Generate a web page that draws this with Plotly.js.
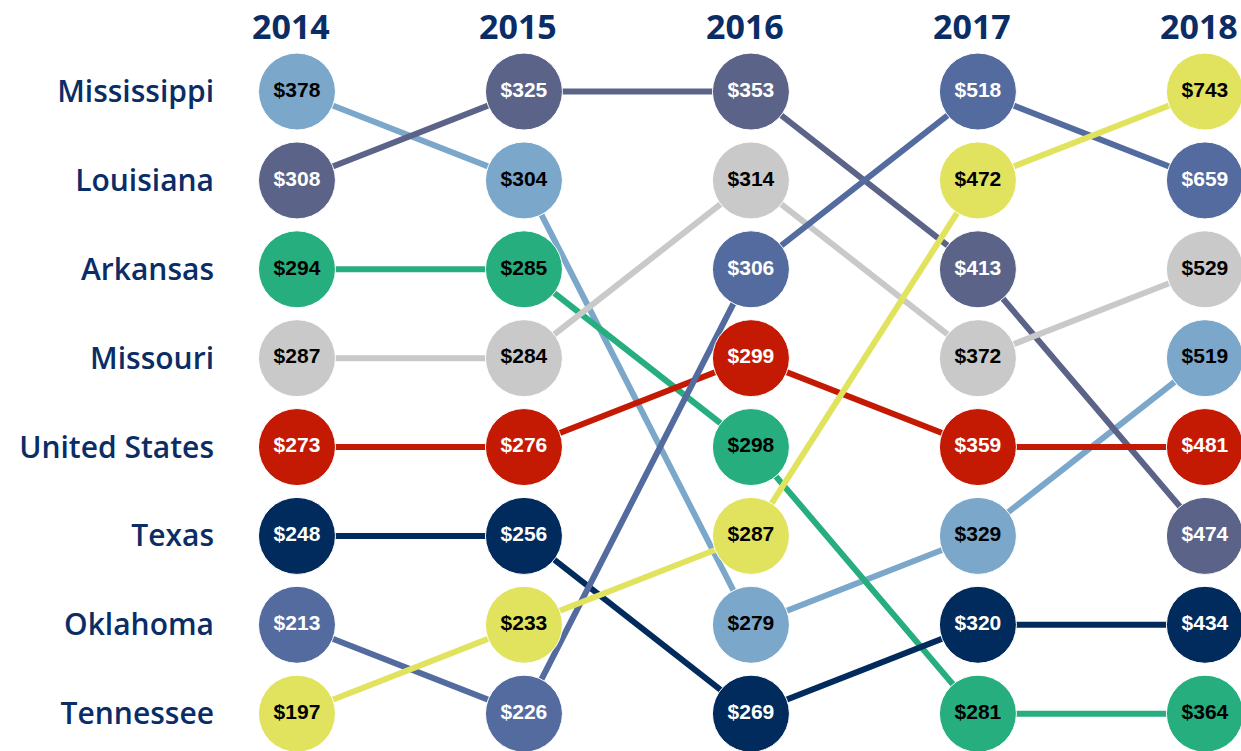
<!DOCTYPE html>
<html>
<head>
<meta charset="utf-8">
<script src="https://cdn.plot.ly/plotly-3.0.1.min.js"></script>
<style>html,body{margin:0;padding:0;background:#fff;}#chart{width:1241px;height:751px;}</style>
</head>
<body>
<div id="chart"></div>
<script>
const years = ["2014", "2015", "2016", "2017", "2018"];
const states = ["Mississippi", "Louisiana", "Arkansas", "Missouri", "United States", "Texas", "Oklahoma", "Tennessee"];
const mississippi = [378, 304, 279, 329, 519];
const louisiana = [308, 325, 353, 413, 474];
const arkansas = [294, 285, 298, 281, 364];
const missouri = [287, 284, 314, 372, 529];
const unitedStates = [273, 276, 299, 359, 481];
const texas = [248, 256, 269, 320, 434];
const oklahoma = [213, 226, 306, 518, 659];
const tennessee = [197, 233, 287, 472, 743];

const series = [mississippi, louisiana, arkansas, missouri, unitedStates, texas, oklahoma, tennessee];
const colors = ["#7ba7ca", "#5b6488", "#27ae7e", "#c9c9c9", "#c41a04", "#002b5c", "#536b9e", "#e1e35e"];
const textColors = ["#000", "#fff", "#000", "#000", "#fff", "#fff", "#fff", "#000"];

// rank within each year (1 = highest)
function rankOf(si, yi) {
  const v = series[si][yi];
  let r = 1;
  series.forEach(s => { if (s[yi] > v) r++; });
  return r;
}

const traces = [];
series.forEach((s, i) => {
  traces.push({
    type: "scatter", mode: "lines",
    x: years.map((y, j) => j),
    y: years.map((y, j) => rankOf(i, j)),
    line: {color: colors[i], width: 6},
    hoverinfo: "skip", showlegend: false
  });
});
series.forEach((s, i) => {
  traces.push({
    type: "scatter", mode: "markers+text",
    x: years.map((y, j) => j),
    y: years.map((y, j) => rankOf(i, j)),
    marker: {color: colors[i], size: 77, line: {color: "#ffffff", width: 1}},
    text: s.map(v => "$" + v),
    textposition: "middle center",
    textfont: {family: "Liberation Sans, Arial, sans-serif", size: 21, color: textColors[i], weight: 700},
    hoverinfo: "skip", showlegend: false, cliponaxis: false
  });
});

const yearAnnotations = years.map((y, j) => ({
  x: j, xref: "x", y: 1, yref: "paper",
  xanchor: "center", yanchor: "middle", xshift: -6, yshift: 34,
  text: y, showarrow: false,
  font: {family: "Open Sans, Noto Sans, sans-serif", size: 34, color: "#0b2d66", weight: 700}
}));

const layout = {
  width: 1241, height: 751,
  margin: {l: 225, r: 0, t: 60, b: 0},
  paper_bgcolor: "#fff", plot_bgcolor: "#fff",
  annotations: yearAnnotations,
  xaxis: {
    range: [-0.317, 4.159],
    showticklabels: false,
    showgrid: false, zeroline: false, showline: false, ticks: "", fixedrange: true
  },
  yaxis: {
    range: [8.42, 0.645],
    tickvals: states.map((s, i) => i + 1), ticktext: states,
    showgrid: false, zeroline: false, showline: false, ticks: "",
    tickfont: {family: "Open Sans, Noto Sans, sans-serif", size: 30, color: "#0b2d66", weight: 600},
    ticklabelstandoff: 10, ticklabeloverflow: "allow", fixedrange: true
  }
};

Plotly.newPlot("chart", traces, layout, {displayModeBar: false, staticPlot: true});
</script>
</body>
</html>
